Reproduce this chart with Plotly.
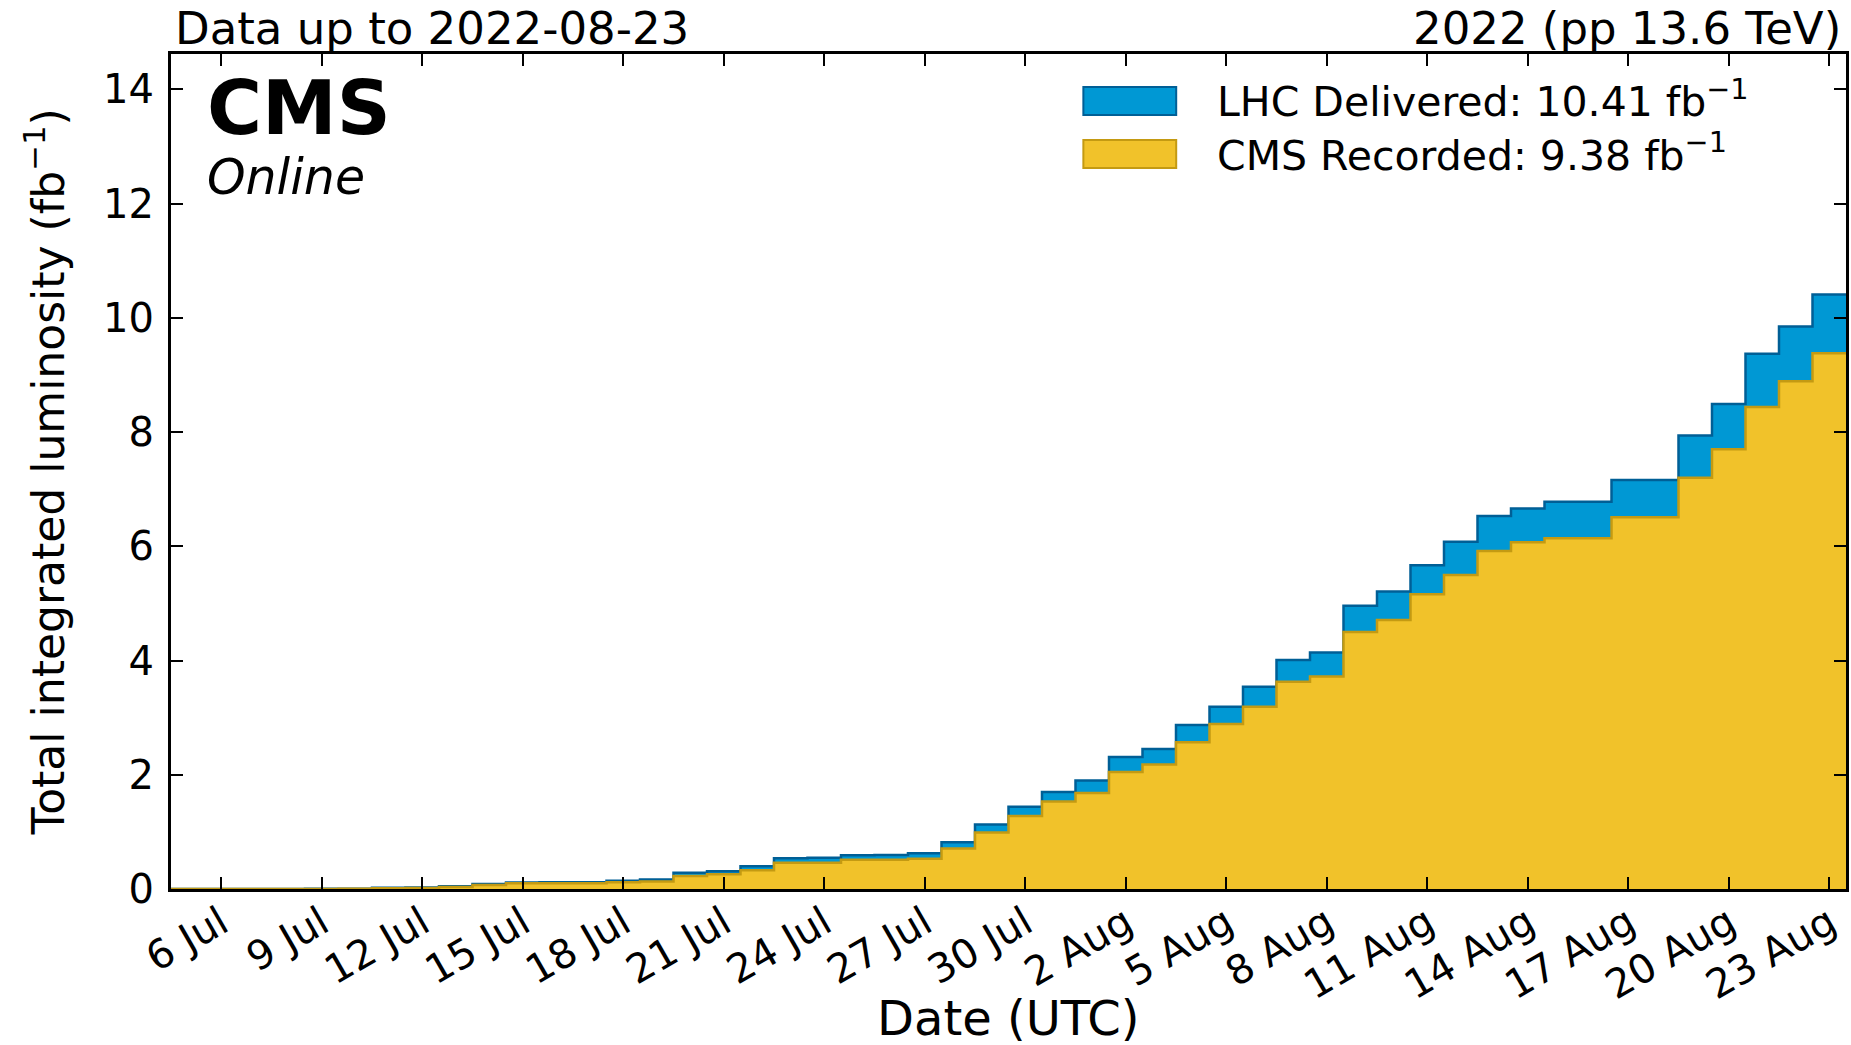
import pandas as pd
import plotly.graph_objects as go

# ---------------- data ----------------
start_date = "2022-07-05"
end_date = "2022-08-23"
dates = list(pd.date_range(start_date, end_date, freq="D"))

delivered = [
    0.0, 0.0, 0.0, 0.0, 0.003, 0.005, 0.02, 0.025, 0.05, 0.088,      # 5-14 Jul
    0.115, 0.117, 0.118, 0.146, 0.165, 0.285, 0.31, 0.40, 0.54, 0.545,  # 15-24 Jul
    0.59, 0.595, 0.625, 0.82, 1.13, 1.44, 1.70,                          # 25-31 Jul
    1.90, 2.31, 2.45, 2.87, 3.19, 3.54, 4.01, 4.14, 4.96, 5.21,          # 1-10 Aug
    5.67, 6.08, 6.53, 6.66, 6.78, 6.78, 7.16, 7.16, 7.94, 8.49,          # 11-20 Aug
    9.37, 9.85, 10.41,                                                   # 21-23 Aug
]
recorded = [
    0.0, 0.0, 0.0, 0.0, 0.002, 0.004, 0.015, 0.018, 0.035, 0.07,
    0.10, 0.10, 0.10, 0.12, 0.13, 0.228, 0.257, 0.33, 0.46, 0.46,
    0.51, 0.51, 0.53, 0.71, 0.99, 1.28, 1.53,
    1.68, 2.05, 2.18, 2.57, 2.89, 3.19, 3.63, 3.72, 4.50, 4.71,
    5.16, 5.50, 5.92, 6.07, 6.14, 6.14, 6.51, 6.51, 7.20, 7.70,
    8.44, 8.89, 9.38,
]
series_names = ["LHC Delivered: 10.41 fb<sup>\u22121</sup>",
                "CMS Recorded: 9.38 fb<sup>\u22121</sup>"]
y_ticks = [0, 2, 4, 6, 8, 10, 12, 14]

# ---------------- styles ----------------
FONT = "DejaVu Sans"
BLUE_FILL, BLUE_EDGE = "#0098D4", "#005F96"
YEL_FILL, YEL_EDGE = "#F1C22A", "#C49A12"

half_day = pd.Timedelta(hours=12)
def step_xy(vals):
    xs = [d - half_day for d in dates] + [dates[-1] + half_day]
    ys = list(vals) + [vals[-1]]
    return xs, ys

fig = go.Figure()
for vals, fill, edge, name in [(delivered, BLUE_FILL, BLUE_EDGE, series_names[0]),
                               (recorded, YEL_FILL, YEL_EDGE, series_names[1])]:
    xs, ys = step_xy(vals)
    fig.add_trace(go.Scatter(x=xs, y=ys, mode="lines", line_shape="hv",
                             line=dict(color=edge, width=2.5),
                             fill="tozeroy", fillcolor=fill, name=name,
                             showlegend=False, hoverinfo="skip"))

L, R, T, B = 171, 1849, 54, 889
W, H = 1851, 1045
pw, ph = R - L, B - T
def px(x):
    return (x - L) / pw
def py(y):
    return (B - y) / ph

fig.update_layout(
    width=W, height=H, autosize=False,
    margin=dict(l=L, r=W - R, t=T, b=H - B, pad=0),
    plot_bgcolor="white", paper_bgcolor="white",
    font=dict(family=FONT, color="black", size=40),
)
fig.update_xaxes(
    type="date",
    range=[dates[0] - half_day, dates[-1] + half_day],
    tick0="2022-07-06", dtick=3 * 86400000, tickformat="%-d %b",
    tickangle=-30, tickfont=dict(size=40, family=FONT),
    ticks="inside", ticklen=12, tickwidth=2, tickcolor="black",
    showline=True, linecolor="black", linewidth=3, mirror="ticks",
    showgrid=False, zeroline=False, ticklabelstandoff=-8,
)
fig.update_yaxes(
    range=[0, 14.62], tickvals=y_ticks,
    tickfont=dict(size=40, family=FONT),
    ticks="inside", ticklen=12, tickwidth=2, tickcolor="black",
    showline=True, linecolor="black", linewidth=3, mirror="ticks",
    showgrid=False, zeroline=False, ticklabelstandoff=6,
)

ann = []
ann.append(dict(text="Data up to 2022-08-23", x=px(173), y=py(28), xanchor="left",
                yanchor="middle", font=dict(size=45)))
ann.append(dict(text="2022 (pp 13.6 TeV)", x=px(1846), y=py(28), xanchor="right",
                yanchor="middle", font=dict(size=45)))
ann.append(dict(text="<b>CMS</b>", x=px(205), y=py(108), xanchor="left",
                yanchor="middle", font=dict(size=75)))
ann.append(dict(text="<i>Online</i>", x=px(205), y=py(177), xanchor="left",
                yanchor="middle", font=dict(size=49)))
ann.append(dict(text="Date (UTC)", x=px(1010), y=py(1018), xanchor="center",
                yanchor="middle", font=dict(size=48)))
ann.append(dict(text="Total integrated luminosity (fb<sup>\u22121</sup>)", x=px(44),
                y=py(472), xanchor="center", yanchor="middle", textangle=-90,
                font=dict(size=44)))
# legend: swatches + one two-line text block
shapes = []
for fill, edge, y0, y1 in [(BLUE_FILL, BLUE_EDGE, 87, 115), (YEL_FILL, YEL_EDGE, 140, 168)]:
    shapes.append(dict(type="rect", xref="paper", yref="paper",
                       x0=px(1085), x1=px(1178), y0=py(y1), y1=py(y0),
                       fillcolor=fill, line=dict(color=edge, width=2)))
ann.append(dict(text="<br>".join(series_names), x=px(1217), y=py(126), xanchor="left",
                yanchor="middle", align="left", font=dict(size=41)))
for a in ann:
    a.update(xref="paper", yref="paper", showarrow=False)
    a["font"].setdefault("family", FONT)
    a["font"].setdefault("color", "black")
fig.update_layout(annotations=ann, shapes=shapes)

fig.write_html("out.html", config={"displayModeBar": False},
               post_script="document.body.style.margin='0';")
